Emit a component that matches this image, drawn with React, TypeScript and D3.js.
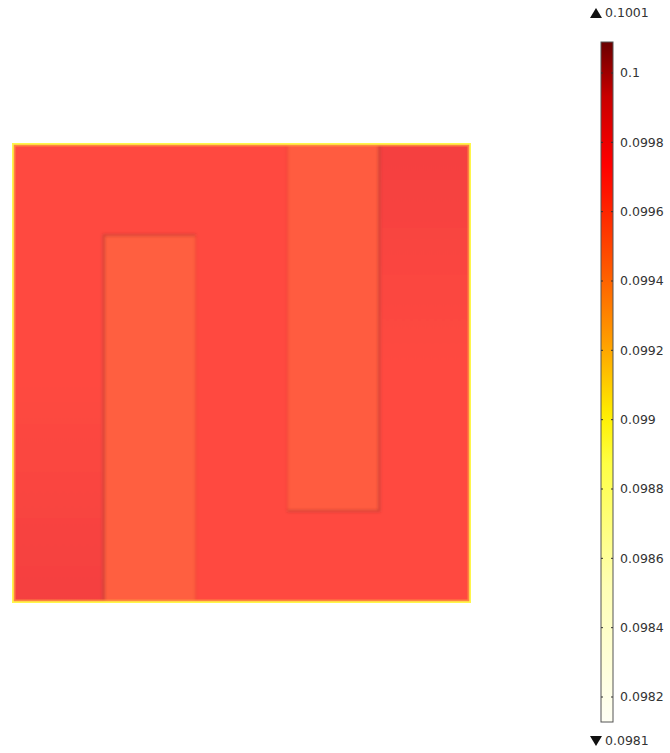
import React from "react";
import * as d3 from "d3";

// ---- data ----
const backgroundValue = 0.09968;
const stripX0 = [0.2, 0.6];
const stripX1 = [0.4, 0.8];
const stripY0 = [0.0, 0.2];
const stripY1 = [0.8, 1.0];
const stripValues = [0.09959, 0.09960];
const columnX0 = [0.0, 0.8];
const columnX1 = [0.2, 1.0];
const columnTopValues = [0.09968, 0.09979];
const columnBottomValues = [0.09979, 0.09968];
const edgeOuterValue = 0.09898;
const edgeInnerValue = 0.09935;
const colorDomain = [0.098128, 0.10009];
const colorStopPos = [0, 0.2, 0.38, 0.45, 0.55, 0.65, 0.78, 0.82, 0.92, 1];
const colorStopCol = ["#fffff4", "#ffffb4", "#ffff44", "#fff000", "#ffa400", "#ff6200", "#ff1400", "#ff0000", "#c80000", "#6a0000"];
const tickValues = [0.0982, 0.0984, 0.0986, 0.0988, 0.099, 0.0992, 0.0994, 0.0996, 0.0998, 0.1];
const tickLabels = ["0.0982", "0.0984", "0.0986", "0.0988", "0.099", "0.0992", "0.0994", "0.0996", "0.0998", "0.1"];
const maxLabel = "0.1001";
const minLabel = "0.0981";

const W = 670, H = 753;
const plot = { x0: 12, x1: 471, y0: 143, y1: 603 };
const bar = { x: 601, w: 12, y0: 42, y1: 722 };

const posScale = d3.scaleLinear().domain(colorDomain).range([0, 1]).clamp(true);
const cmap = d3.scaleLinear<string>().domain(colorStopPos).range(colorStopCol).interpolate(d3.interpolateRgb);
const rawColor = (v: number) => cmap(posScale(v));
const lit = (v: number) => d3.interpolateRgb(rawColor(v), "#ffffff")(0.25);

const xs = d3.scaleLinear().domain([0, 1]).range([plot.x0, plot.x1]);
const ys = d3.scaleLinear().domain([0, 1]).range([plot.y1, plot.y0]);
// colorbar scale: value -> y
const barY = d3.scaleLinear().domain([0.0982, 0.1]).range([697, 73]);

export default function App() {
  const barStops = d3.range(0, 1.0001, 0.02);
  return (
    <svg width={W} height={H} style={{ position: "absolute", left: 0, top: 0, background: "#fff" }}
      fontFamily="DejaVu Sans, sans-serif">
      <defs>
        <filter id="soft" x="-5%" y="-5%" width="110%" height="110%">
          <feGaussianBlur stdDeviation="1.2" />
        </filter>
        <filter id="shadowBlur" x="-20%" y="-20%" width="140%" height="140%">
          <feGaussianBlur stdDeviation="1.4" />
        </filter>
        <clipPath id="sq">
          <rect x={plot.x0} y={plot.y0} width={plot.x1 - plot.x0} height={plot.y1 - plot.y0} />
        </clipPath>
        {columnX0.map((_, i) => (
          <linearGradient key={i} id={`col${i}`} x1="0" y1="0" x2="0" y2="1">
            <stop offset="0" stopColor={lit(columnTopValues[i])} />
            <stop offset="0.5" stopColor={lit(backgroundValue)} />
            <stop offset="1" stopColor={lit(columnBottomValues[i])} />
          </linearGradient>
        ))}
        <linearGradient id="barGrad" x1="0" y1="1" x2="0" y2="0">
          {barStops.map((p, i) => (
            <stop key={i} offset={p} stopColor={cmap(p)} />
          ))}
        </linearGradient>
      </defs>

      <g clipPath="url(#sq)">
        <g filter="url(#soft)">
          <rect x={xs(0) - 3} y={ys(1) - 3} width={xs(1) - xs(0) + 6} height={ys(0) - ys(1) + 6} fill={lit(backgroundValue)} />
          {columnX0.map((x0, i) => (
            <rect key={"c" + i} x={xs(x0) - (i === 0 ? 3 : 0)} y={ys(1) - 3} width={xs(columnX1[i]) - xs(x0) + 3}
              height={ys(0) - ys(1) + 6} fill={`url(#col${i})`} />
          ))}
          {stripX0.map((x0, i) => (
            <rect key={"s" + i} x={xs(x0)} y={ys(stripY1[i]) - (i === 1 ? 3 : 0)} width={xs(stripX1[i]) - xs(x0)}
              height={ys(stripY0[i]) - ys(stripY1[i]) + 3} fill={lit(stripValues[i])} />
          ))}
        </g>
        <g filter="url(#shadowBlur)" stroke="#8a2a2a" strokeOpacity={0.4} strokeWidth={2.2} fill="none">
          <path d={`M${xs(stripX0[0])},${ys(stripY0[0]) + 3}V${ys(stripY1[0])}H${xs(stripX1[0])}`} />
          <path d={`M${xs(stripX0[1])},${ys(stripY0[1])}H${xs(stripX1[1])}V${ys(stripY1[1]) - 3}`} />
        </g>
        <g filter="url(#shadowBlur)" stroke="#8a2a2a" strokeOpacity={0.1} strokeWidth={2} fill="none">
          <path d={`M${xs(stripX1[0])},${ys(stripY1[0])}V${ys(stripY0[0]) + 3}`} />
          <path d={`M${xs(stripX0[1])},${ys(stripY0[1])}V${ys(stripY1[1]) - 3}`} />
        </g>
        <rect x={plot.x0 + 1.5} y={plot.y0 + 1.5} width={plot.x1 - plot.x0 - 3} height={plot.y1 - plot.y0 - 3}
          fill="none" stroke={lit(edgeInnerValue)} strokeWidth={4} strokeOpacity={0.75} />
        <rect x={plot.x0 + 0.5} y={plot.y0 + 0.5} width={plot.x1 - plot.x0 - 1} height={plot.y1 - plot.y0 - 1}
          fill="none" stroke={lit(edgeOuterValue)} strokeWidth={2.5} />
      </g>

      {/* color bar */}
      <rect x={bar.x} y={bar.y0} width={bar.w} height={bar.y1 - bar.y0} fill="url(#barGrad)" stroke="#555" strokeWidth={1} />
      {tickValues.map((v, i) => (
        <g key={i}>
          <line x1={bar.x} x2={bar.x + 2} y1={barY(v)} y2={barY(v)} stroke="#333" strokeWidth={1} />
          <line x1={bar.x + bar.w - 2} x2={bar.x + bar.w} y1={barY(v)} y2={barY(v)} stroke="#333" strokeWidth={1} />
          <text x={620} y={barY(v)} dy="0.35em" fontSize={12.5} fill="#333">{tickLabels[i]}</text>
        </g>
      ))}
      <path d="M590,18L596,8L602,18Z" fill="#111" />
      <text x={605} y={13} dy="0.35em" fontSize={12.5} fill="#333">{maxLabel}</text>
      <path d="M590,736L596,746L602,736Z" fill="#111" />
      <text x={605} y={741} dy="0.35em" fontSize={12.5} fill="#333">{minLabel}</text>
    </svg>
  );
}
